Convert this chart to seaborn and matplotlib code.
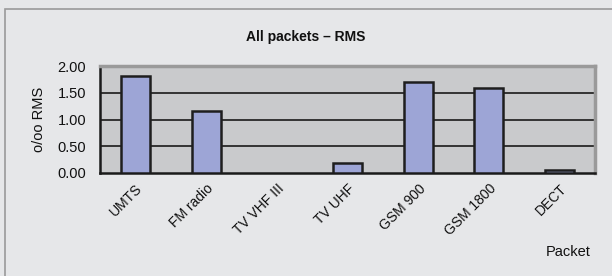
"""Bar chart: All packets - RMS per packet type."""
import matplotlib
matplotlib.use("Agg")
import matplotlib.pyplot as plt
from matplotlib.patches import Rectangle
from matplotlib.ticker import FixedLocator
import seaborn as sns
import pandas as pd
import numpy as np

packets = ["UMTS", "FM radio", "TV VHF III", "TV UHF", "GSM 900", "GSM 1800", "DECT"]
rms = [1.81, 1.15, 0.0, 0.18, 1.70, 1.58, 0.05]

sns.set_theme(style="white")
plt.rcParams["font.family"] = ["Liberation Sans", "DejaVu Sans"]
plt.rcParams["text.color"] = "#111111"
plt.rcParams["xtick.color"] = "#111111"
plt.rcParams["ytick.color"] = "#111111"
plt.rcParams["axes.labelcolor"] = "#111111"

W, H = 612, 276
fig = plt.figure(figsize=(W / 100, H / 100), dpi=100)
fig.patch.set_facecolor("#e6e7e9")
# outer frame (left + top visible)
fig.patches.append(Rectangle((5 / W, -0.1), 1.2, 1 - 9 / H + 0.1, transform=fig.transFigure,
                             fill=False, edgecolor="#9a9a9a", linewidth=1.2))

ax = fig.add_axes([100 / W, 1 - 173 / H, 495 / W, 107 / H])
ax.set_facecolor("#c9cacc")

df = pd.DataFrame({"packet": packets, "rms": rms})
sns.barplot(data=df, x="packet", y="rms", ax=ax, width=0.41, color="#9da5d6",
            saturation=1, edgecolor="#1e1e1e", linewidth=1.8, zorder=3)
for p in ax.patches:
    if p.get_height() == 0:
        p.set_visible(False)

ax.set_ylim(0, 2.0)
ax.set_xlim(-0.5, len(packets) - 0.5)
ax.set_yticks(np.arange(0, 2.01, 0.5))
ax.set_yticklabels([f"{v:.2f}" for v in np.arange(0, 2.01, 0.5)], fontsize=10.5)
for y in (0.5, 1.0, 1.5):
    ax.axhline(y, color="#1a1a1a", linewidth=1.2, zorder=1)

ax.xaxis.set_minor_locator(FixedLocator(np.arange(-0.5, len(packets), 1.0)))
ax.tick_params(axis="x", which="major", length=0, pad=6)
ax.tick_params(axis="x", which="minor", length=5, width=1.5, color="#1a1a1a", direction="out")
ax.tick_params(axis="y", length=5, width=1.5, color="#1a1a1a", direction="out", pad=5)
ax.set_xticks(range(len(packets)))
ax.set_xticklabels(packets, rotation=45, ha="right", rotation_mode="anchor", fontsize=10)

for s in ("left", "bottom"):
    ax.spines[s].set_color("#1a1a1a")
    ax.spines[s].set_linewidth(1.8)
for s in ("top", "right"):
    ax.spines[s].set_color("#9a9a9a")
    ax.spines[s].set_linewidth(2.5)

ax.set_xlabel("")
ax.set_ylabel("o/oo RMS", fontsize=10.5, labelpad=8)
fig.text(306 / W, 1 - 37 / H, "All packets \u2013 RMS", ha="center", va="center",
         fontsize=10, fontweight="bold")
fig.text(591 / W, 1 - 252 / H, "Packet", ha="right", va="center", fontsize=10.5)

fig.savefig("out.png", dpi=100, facecolor=fig.get_facecolor())
